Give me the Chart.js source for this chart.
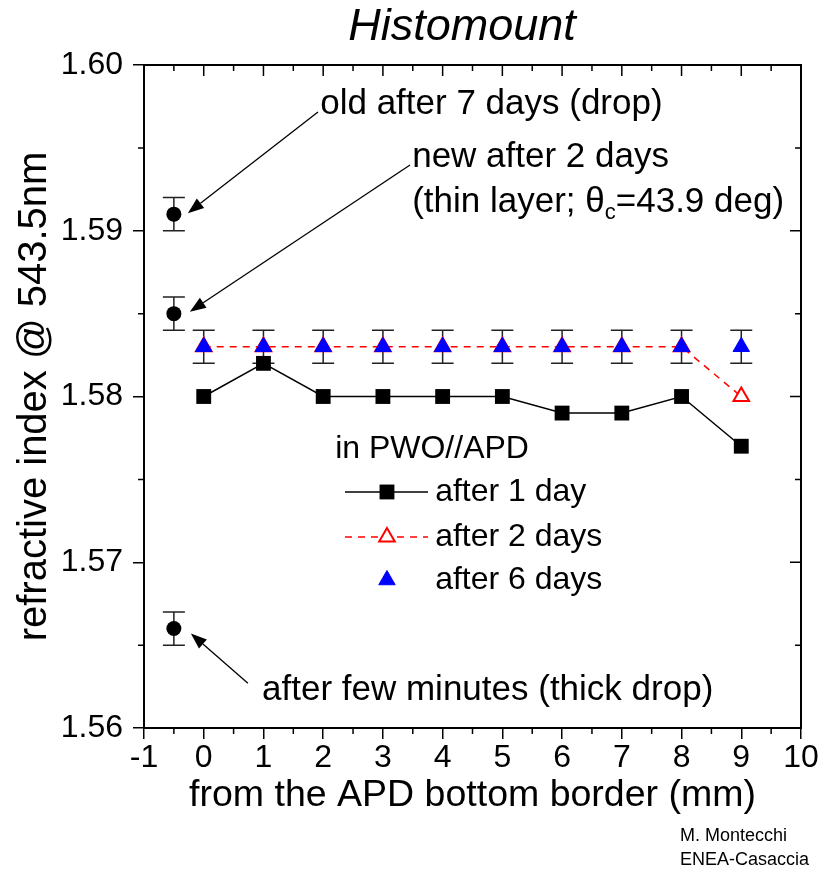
<!DOCTYPE html>
<html><head><meta charset="utf-8">
<script src="https://cdn.jsdelivr.net/npm/chart.js@4.4.1/dist/chart.umd.min.js"></script>
<style>html,body{margin:0;padding:0;background:#fff}canvas{display:block}</style>
</head><body>
<canvas id="c" width="825" height="871"></canvas>
<script>
const FONT = "'Liberation Sans', Arial, sans-serif";

// ---- data ----
const positions   = [0, 1, 2, 3, 4, 5, 6, 7, 8, 9];
const after1Day   = [1.580, 1.582, 1.580, 1.580, 1.580, 1.580, 1.579, 1.579, 1.580, 1.577];
const after2Days  = [1.583, 1.583, 1.583, 1.583, 1.583, 1.583, 1.583, 1.583, 1.583, 1.580];
const after6Days  = [1.583, 1.583, 1.583, 1.583, 1.583, 1.583, 1.583, 1.583, 1.583, 1.583];
const after6DaysErr = [0.001, 0.001, 0.001, 0.001, 0.001, 0.001, 0.001, 0.001, 0.001, 0.001];
const dropX       = [-0.5, -0.5, -0.5];
const dropValues  = [1.591, 1.585, 1.566];
const dropErr     = [0.001, 0.001, 0.001];
const xTicks      = [-1, 0, 1, 2, 3, 4, 5, 6, 7, 8, 9, 10];
const yTicks      = [1.56, 1.57, 1.58, 1.59, 1.60];

const titleText = 'Histomount';
const xTitle = 'from the APD bottom border (mm)';
const yTitle = 'refractive index @ 543.5nm';
const legendTitle = 'in PWO//APD';
const legendLabels = ['after 1 day', 'after 2 days', 'after 6 days'];
const footer = ['M. Montecchi', 'ENEA-Casaccia'];

const pts = (xs, ys) => xs.map((x, i) => ({x: x, y: ys[i]}));

const CAP = 11;
const decor = {
  id: 'decor',
  beforeDatasetsDraw(chart) {
    const {ctx, scales: {x, y}} = chart;
    ctx.save();
    ctx.strokeStyle = '#222';
    ctx.lineWidth = 1.5;
    const bar = (xv, yv, e) => {
      const px = x.getPixelForValue(xv), p1 = y.getPixelForValue(yv - e), p2 = y.getPixelForValue(yv + e);
      ctx.beginPath();
      ctx.moveTo(px, p1); ctx.lineTo(px, p2);
      ctx.moveTo(px - CAP, p1); ctx.lineTo(px + CAP, p1);
      ctx.moveTo(px - CAP, p2); ctx.lineTo(px + CAP, p2);
      ctx.stroke();
    };
    positions.forEach((xv, i) => bar(xv, after6Days[i], after6DaysErr[i]));
    dropX.forEach((xv, i) => bar(xv, dropValues[i], dropErr[i]));
    ctx.restore();
  },
  afterDraw(chart) {
    const {ctx, chartArea: a, scales: {x, y}} = chart;
    ctx.save();
    // frame
    ctx.strokeStyle = '#000';
    ctx.lineWidth = 2;
    ctx.strokeRect(a.left, a.top, a.right - a.left, a.bottom - a.top);
    // ticks (minor outside, mirrored inside on top/right)
    ctx.lineWidth = 1.5;
    ctx.beginPath();
    for (let k = 0; k <= 22; k++) {
      const px = x.getPixelForValue(-1 + k * 0.5);
      const major = k % 2 === 0;
      const len = major ? 11 : 6;
      ctx.moveTo(px, a.top); ctx.lineTo(px, a.top + len);
      if (!major) { ctx.moveTo(px, a.bottom); ctx.lineTo(px, a.bottom + len); }
    }
    for (let k = 0; k <= 8; k++) {
      const py = y.getPixelForValue(1.56 + k * 0.005);
      const major = k % 2 === 0;
      const len = major ? 11 : 6;
      ctx.moveTo(a.right, py); ctx.lineTo(a.right - len, py);
      if (!major) { ctx.moveTo(a.left, py); ctx.lineTo(a.left - len, py); }
    }
    ctx.stroke();

    // title
    ctx.fillStyle = '#000';
    ctx.font = 'italic 45px ' + FONT;
    ctx.textAlign = 'center';
    ctx.textBaseline = 'alphabetic';
    ctx.fillText(titleText, 462, 40);

    // annotations
    const X = v => x.getPixelForValue(v), Y = v => y.getPixelForValue(v);
    ctx.font = '35px ' + FONT;
    ctx.textAlign = 'left';
    ctx.textBaseline = 'middle';
    ctx.fillText('old after 7 days (drop)', X(1.95), Y(1.5976));
    ctx.fillText('new after 2 days', X(3.49), Y(1.5944));
    // theta line
    let tx = X(3.49); const ty = Y(1.5917);
    const s1 = '(thin layer; ';
    ctx.fillText(s1, tx, ty); tx += ctx.measureText(s1).width;
    ctx.fillText('\u03B8', tx, ty); tx += ctx.measureText('\u03B8').width;
    ctx.font = '22px ' + FONT;
    ctx.fillText('c', tx, ty + 10); tx += ctx.measureText('c').width;
    ctx.font = '35px ' + FONT;
    ctx.fillText('=43.9 deg)', tx, ty);
    ctx.fillText('after few minutes (thick drop)', X(0.976), Y(1.5623));

    // arrows
    ctx.strokeStyle = '#000';
    ctx.lineWidth = 1.3;
    const arrow = (x1, y1, x2, y2) => {
      const ang = Math.atan2(y2 - y1, x2 - x1), L = 16, W = 6;
      const bx = x2 - L * Math.cos(ang), by = y2 - L * Math.sin(ang);
      ctx.beginPath(); ctx.moveTo(x1, y1); ctx.lineTo(bx, by); ctx.stroke();
      ctx.beginPath();
      ctx.moveTo(x2, y2);
      ctx.lineTo(bx + W * Math.sin(ang), by - W * Math.cos(ang));
      ctx.lineTo(bx - W * Math.sin(ang), by + W * Math.cos(ang));
      ctx.closePath(); ctx.fill();
    };
    arrow(X(1.913), Y(1.59716), X(dropX[0]) + 14, Y(dropValues[0]) - 1);
    arrow(X(3.454), Y(1.59397), X(dropX[1]) + 16, Y(dropValues[1]) - 2);
    arrow(X(0.74), Y(1.5627), X(dropX[2]) + 17, Y(dropValues[2]) + 5);

    // legend
    const dp = Chart.helpers.drawPoint;
    ctx.font = '32px ' + FONT;
    ctx.fillStyle = '#000';
    ctx.fillText(legendTitle, X(2.20), Y(1.5768));
    const rowY = [Y(1.57424), Y(1.57152), Y(1.56893)];
    const lx1 = X(2.365), lx2 = X(3.755), mx = X(3.068), txx = X(3.875);
    // row 1
    ctx.strokeStyle = '#000'; ctx.lineWidth = 1.5; ctx.setLineDash([]);
    ctx.beginPath(); ctx.moveTo(lx1, rowY[0]); ctx.lineTo(lx2, rowY[0]); ctx.stroke();
    ctx.fillStyle = '#000';
    dp(ctx, {pointStyle: 'rect', radius: 10.5, borderWidth: 0, rotation: 0}, mx, rowY[0]);
    // row 2
    ctx.strokeStyle = '#f00'; ctx.setLineDash([7, 6]);
    ctx.beginPath(); ctx.moveTo(lx1, rowY[1]); ctx.lineTo(lx2, rowY[1]); ctx.stroke();
    ctx.setLineDash([]);
    ctx.fillStyle = '#fff'; ctx.strokeStyle = '#f00'; ctx.lineWidth = 2;
    dp(ctx, {pointStyle: 'triangle', radius: 9, borderWidth: 2, rotation: 0}, mx, rowY[1]);
    // row 3
    ctx.fillStyle = '#00f'; ctx.strokeStyle = '#00f'; ctx.lineWidth = 1;
    dp(ctx, {pointStyle: 'triangle', radius: 9.5, borderWidth: 1, rotation: 0}, mx, rowY[2]);
    ctx.fillStyle = '#000';
    ctx.font = '32px ' + FONT;
    legendLabels.forEach((t, i) => ctx.fillText(t, txx, rowY[i]));

    // footer
    ctx.font = '18px ' + FONT;
    ctx.fillText(footer[0], 680, 836);
    ctx.fillText(footer[1], 680, 860);
    ctx.restore();
  }
};

new Chart(document.getElementById('c'), {
  type: 'scatter',
  data: {
    datasets: [
      {label: legendLabels[0], data: pts(positions, after1Day), showLine: true,
       borderColor: '#000', borderWidth: 1.5, pointStyle: 'rect', pointRadius: 10.5,
       pointBackgroundColor: '#000', pointBorderColor: '#000', pointBorderWidth: 0, order: 2},
      {label: legendLabels[1], data: pts(positions, after2Days), showLine: true,
       borderColor: '#f00', borderWidth: 1.5, borderDash: [7, 6], pointStyle: 'triangle', pointRadius: 9,
       pointBackgroundColor: '#fff', pointBorderColor: '#f00', pointBorderWidth: 2, order: 1},
      {label: legendLabels[2], data: pts(positions, after6Days), showLine: false,
       pointStyle: 'triangle', pointRadius: 9.5, pointBackgroundColor: '#00f', pointBorderColor: '#00f',
       pointBorderWidth: 1, order: 0},
      {label: 'drop', data: pts(dropX, dropValues), showLine: false,
       pointStyle: 'circle', pointRadius: 7.5, pointBackgroundColor: '#000', pointBorderColor: '#000',
       pointBorderWidth: 0, order: 0}
    ]
  },
  options: {
    responsive: false,
    animation: false,
    events: [],
    layout: {padding: {left: 0, right: 24, top: 65, bottom: 0}},
    plugins: {legend: {display: false}, tooltip: {enabled: false}, title: {display: false}},
    scales: {
      x: {
        type: 'linear', min: -1, max: 10,
        afterBuildTicks: s => { s.ticks = xTicks.map(v => ({value: v})); },
        afterFit: s => { s.height = 143; },
        ticks: {font: {family: FONT, size: 32}, color: '#000', padding: 0, maxRotation: 0, autoSkip: false,
                callback: v => String(v)},
        grid: {display: true, drawOnChartArea: false, drawTicks: true, tickLength: 11, color: '#000', lineWidth: 1.5},
        border: {display: true, color: '#000', width: 2},
        title: {display: true, text: xTitle, font: {family: FONT, size: 37.5}, color: '#000', padding: {top: 0, bottom: 53}}
      },
      y: {
        type: 'linear', min: 1.56, max: 1.60,
        afterBuildTicks: s => { s.ticks = yTicks.map(v => ({value: v})); },
        afterFit: s => { s.width = 144; },
        ticks: {font: {family: FONT, size: 32}, color: '#000', padding: 10, autoSkip: false,
                callback: v => Number(v).toFixed(2)},
        grid: {display: true, drawOnChartArea: false, drawTicks: true, tickLength: 11, color: '#000', lineWidth: 1.5},
        border: {display: true, color: '#000', width: 2},
        title: {display: true, text: yTitle, font: {family: FONT, size: 40}, color: '#000', padding: {top: 11, bottom: 0}}
      }
    }
  },
  plugins: [decor]
});
</script>
</body></html>
